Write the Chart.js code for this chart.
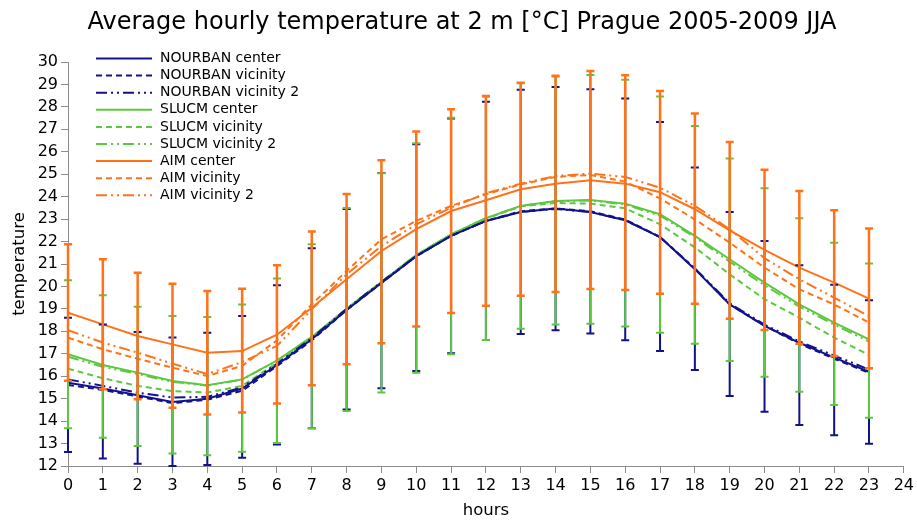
<!DOCTYPE html>
<html lang="en">
<head>
<meta charset="UTF-8">
<title>Average hourly temperature - Prague 2005-2009 JJA</title>
<script src="https://cdn.jsdelivr.net/npm/chart.js"></script>
<style>
  html, body { margin: 0; padding: 0; background: #fff; }
</style>
</head>
<body>
<canvas id="tempChart" width="917" height="520"></canvas>
<script>
// hours of the day
const hours = [0, 1, 2, 3, 4, 5, 6, 7, 8, 9, 10, 11, 12, 13, 14, 15, 16, 17, 18, 19, 20, 21, 22, 23];

// mean temperatures
const nourbanCenter   = [15.71, 15.45, 15.15, 14.85, 15.00, 15.45, 16.50, 17.65, 18.95, 20.15, 21.35, 22.25, 22.92, 23.32, 23.47, 23.32, 22.95, 22.20, 20.77, 19.20, 18.24, 17.49, 16.83, 16.20];
const nourbanVicinity = [15.61, 15.39, 15.10, 14.80, 14.95, 15.35, 16.45, 17.60, 18.95, 20.15, 21.35, 22.25, 22.92, 23.35, 23.48, 23.35, 22.98, 22.20, 20.80, 19.20, 18.25, 17.45, 16.78, 16.15];
const nourbanVicinity2= [15.86, 15.57, 15.27, 15.05, 15.08, 15.50, 16.55, 17.70, 19.00, 20.20, 21.35, 22.25, 22.92, 23.32, 23.45, 23.32, 22.95, 22.20, 20.80, 19.25, 18.30, 17.55, 16.92, 16.30];

const slucmCenter     = [16.98, 16.50, 16.16, 15.79, 15.60, 15.86, 16.70, 17.75, 19.00, 20.20, 21.40, 22.32, 23.04, 23.59, 23.81, 23.85, 23.69, 23.22, 22.25, 21.21, 20.17, 19.20, 18.39, 17.64];
const slucmVicinity   = [16.34, 15.91, 15.57, 15.34, 15.27, 15.57, 16.60, 17.72, 19.00, 20.20, 21.40, 22.30, 23.02, 23.57, 23.72, 23.69, 23.48, 22.77, 21.74, 20.54, 19.43, 18.61, 17.72, 16.95];
const slucmVicinity2  = [16.87, 16.42, 16.10, 15.75, 15.58, 15.85, 16.70, 17.75, 19.00, 20.20, 21.40, 22.32, 23.04, 23.59, 23.80, 23.83, 23.65, 23.15, 22.20, 21.10, 20.05, 19.10, 18.30, 17.54];

const aimCenter       = [18.83, 18.31, 17.79, 17.42, 17.05, 17.12, 17.85, 19.05, 20.32, 21.58, 22.55, 23.36, 23.84, 24.33, 24.58, 24.73, 24.58, 24.20, 23.44, 22.50, 21.63, 20.84, 20.17, 19.46];
const aimVicinity     = [17.72, 17.20, 16.78, 16.38, 16.01, 16.46, 17.60, 19.20, 20.69, 22.10, 22.92, 23.59, 24.11, 24.55, 24.88, 24.97, 24.67, 23.92, 22.99, 21.95, 20.84, 19.87, 19.20, 18.39];
const aimVicinity2    = [18.05, 17.50, 17.05, 16.56, 16.10, 16.63, 17.35, 18.98, 20.54, 21.80, 22.77, 23.51, 24.15, 24.58, 24.92, 25.03, 24.88, 24.40, 23.59, 22.55, 21.26, 20.32, 19.50, 18.68];

// error bar ranges (min / max) per model
const nourbanMax = [18.60, 18.31, 17.97, 17.72, 17.94, 18.68, 20.05, 21.70, 23.45, 25.05, 26.34, 27.48, 28.23, 28.76, 28.89, 28.79, 28.37, 27.33, 25.30, 23.32, 22.03, 20.94, 20.07, 19.38];
const nourbanMin = [12.62, 12.33, 12.10, 12.00, 12.04, 12.37, 12.96, 13.68, 14.52, 15.46, 16.23, 17.02, 17.61, 17.88, 18.05, 17.90, 17.60, 17.12, 16.28, 15.12, 14.42, 13.83, 13.37, 12.99];
const slucmMax   = [20.28, 19.61, 19.09, 18.68, 18.64, 19.20, 20.35, 21.88, 23.50, 25.04, 26.38, 27.52, 28.46, 29.05, 29.35, 29.42, 29.21, 28.46, 27.15, 25.70, 24.37, 23.04, 21.95, 21.02];
const slucmMin   = [13.68, 13.26, 12.89, 12.56, 12.48, 12.64, 13.02, 13.68, 14.45, 15.27, 16.16, 16.98, 17.61, 18.12, 18.30, 18.34, 18.22, 17.94, 17.45, 16.68, 15.98, 15.31, 14.72, 14.15];
const aimMax     = [21.88, 21.21, 20.61, 20.12, 19.80, 19.90, 20.94, 22.45, 24.12, 25.62, 26.90, 27.90, 28.49, 29.07, 29.39, 29.60, 29.41, 28.71, 27.70, 26.44, 25.20, 24.25, 23.39, 22.58];
const aimMin     = [15.80, 15.42, 14.97, 14.60, 14.30, 14.38, 14.78, 15.60, 16.53, 17.47, 18.22, 18.82, 19.14, 19.59, 19.75, 19.89, 19.84, 19.68, 19.23, 18.56, 18.06, 17.45, 16.90, 16.35];

const seriesNames = ['NOURBAN center', 'NOURBAN vicinity', 'NOURBAN vicinity 2',
                     'SLUCM center', 'SLUCM vicinity', 'SLUCM vicinity 2',
                     'AIM center', 'AIM vicinity', 'AIM vicinity 2'];

const NAVY = '#12128c';
const GREEN = '#5cc83f';
const ORANGE = '#ff7219';
const FONT = "'DejaVu Sans', sans-serif";

const DASH = [6, 4];
const DASHDOT = [11, 4, 2, 4, 2, 4];

function line(label, values, color, dash) {
    return {
        label: label,
        data: values.map((v, i) => ({x: hours[i], y: v})),
        borderColor: color,
        borderWidth: 2,
        borderDash: dash,
        pointRadius: 0,
        fill: false,
        tension: 0
    };
}

const datasets = [
    line(seriesNames[0], nourbanCenter, NAVY, []),
    line(seriesNames[1], nourbanVicinity, NAVY, DASH),
    line(seriesNames[2], nourbanVicinity2, NAVY, DASHDOT),
    line(seriesNames[3], slucmCenter, GREEN, []),
    line(seriesNames[4], slucmVicinity, GREEN, DASH),
    line(seriesNames[5], slucmVicinity2, GREEN, DASHDOT),
    line(seriesNames[6], aimCenter, ORANGE, []),
    line(seriesNames[7], aimVicinity, ORANGE, DASH),
    line(seriesNames[8], aimVicinity2, ORANGE, DASHDOT)
];

const errorSets = [
    { color: NAVY, lo: nourbanMin, hi: nourbanMax, width: 2 },
    { color: GREEN, lo: slucmMin, hi: slucmMax, width: 2 },
    { color: ORANGE, lo: aimMin, hi: aimMax, width: 2.5 }
];

const errorBarPlugin = {
    id: 'errorBars',
    afterDatasetsDraw(chart) {
        const {ctx, scales: {x, y}} = chart;
        ctx.save();
        errorSets.forEach(s => {
            ctx.strokeStyle = s.color;
            ctx.lineWidth = s.width;
            hours.forEach((h, i) => {
                const px = x.getPixelForValue(h);
                const top = y.getPixelForValue(s.hi[i]);
                const bot = y.getPixelForValue(s.lo[i]);
                ctx.beginPath();
                ctx.moveTo(px, top); ctx.lineTo(px, bot);
                ctx.moveTo(px - 4, top); ctx.lineTo(px + 4, top);
                ctx.moveTo(px - 4, bot); ctx.lineTo(px + 4, bot);
                ctx.stroke();
            });
        });
        ctx.restore();
    }
};

// legend box inside the plot + title
const legendPlugin = {
    id: 'legendInside',
    afterDraw(chart) {
        const ctx = chart.ctx;
        ctx.save();
        ctx.font = '14px ' + FONT;
        ctx.textBaseline = 'middle';
        chart.data.datasets.forEach((ds, i) => {
            const yy = 58.5 + i * 17.1;
            ctx.strokeStyle = ds.borderColor;
            ctx.lineWidth = 2;
            ctx.setLineDash(ds.borderDash);
            ctx.beginPath();
            ctx.moveTo(96, yy); ctx.lineTo(152, yy);
            ctx.stroke();
            ctx.setLineDash([]);
            ctx.fillStyle = '#000';
            ctx.fillText(ds.label, 160, yy);
        });
        ctx.font = '24px ' + FONT;
        ctx.textAlign = 'center';
        ctx.fillText('Average hourly temperature at 2 m [°C] Prague 2005-2009 JJA', 462, 23);
        ctx.restore();
    }
};

new Chart(document.getElementById('tempChart'), {
    type: 'line',
    data: { datasets: datasets },
    options: {
        responsive: false,
        animation: false,
        layout: { padding: { top: 62, right: 13, left: 0, bottom: 0 } },
        plugins: {
            legend: { display: false },
            title: { display: false },
            tooltip: { enabled: false }
        },
        scales: {
            x: {
                type: 'linear',
                min: 0,
                max: 24,
                afterFit(scale) { scale.height = 54; },
                ticks: { stepSize: 1, color: '#000', padding: 3, maxRotation: 0, autoSkip: false,
                         font: { family: FONT, size: 16 } },
                grid: { drawOnChartArea: false, drawTicks: true, tickLength: 7, color: '#8c8c8c' },
                border: { color: '#8c8c8c' },
                title: { display: true, text: 'hours', color: '#000', padding: { top: 0, bottom: -1 },
                         font: { family: FONT, size: 16.5 } }
            },
            y: {
                min: 12,
                max: 30,
                afterFit(scale) { scale.width = 68; },
                ticks: { stepSize: 1, color: '#000', padding: 3, autoSkip: false,
                         font: { family: FONT, size: 16 } },
                grid: { drawOnChartArea: false, drawTicks: true, tickLength: 7, color: '#8c8c8c' },
                border: { color: '#8c8c8c' },
                title: { display: true, text: 'temperature', color: '#000', padding: { top: 10, bottom: 0 },
                         font: { family: FONT, size: 16.5 } }
            }
        }
    },
    plugins: [errorBarPlugin, legendPlugin]
});
</script>
</body>
</html>
